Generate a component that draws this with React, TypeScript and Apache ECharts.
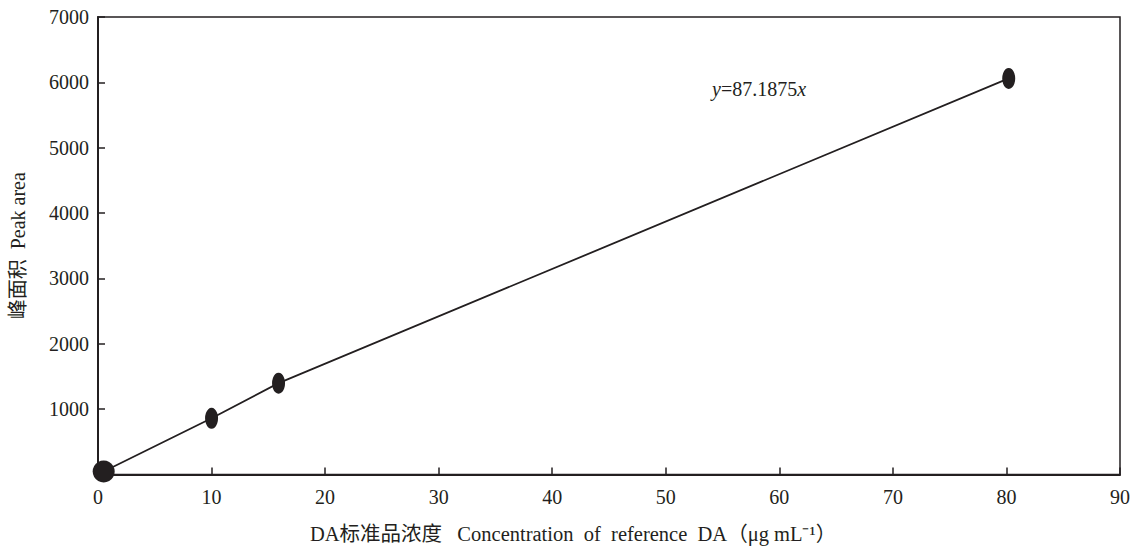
import React, { useEffect, useRef } from "react";
import * as echarts from "echarts";

const xValues = [0.5, 10, 15.9, 80.2];
const yValues = [45, 860, 1398, 6060];
const xTicks = [0, 10, 20, 30, 40, 50, 60, 70, 80, 90];
const yTicks = [0, 1000, 2000, 3000, 4000, 5000, 6000, 7000];

const FONT = "'Liberation Serif', 'Times New Roman', 'Noto Sans CJK SC', serif";
const INK = "#231f20";

export default function App() {
  const ref = useRef<HTMLDivElement>(null);
  useEffect(() => {
    if (!ref.current) return;
    const chart = echarts.init(ref.current, undefined, { renderer: "svg" });
    const pts = xValues.map((x, i) => [x, yValues[i]]);
    chart.setOption({
      animation: false,
      backgroundColor: "#ffffff",
      grid: {
        left: 97,
        right: 14,
        top: 17,
        bottom: 68,
        show: true,
        borderColor: INK,
        borderWidth: 1.5,
        backgroundColor: "transparent",
      },
      xAxis: {
        type: "value",
        min: xTicks[0],
        max: xTicks[xTicks.length - 1],
        interval: 10,
        name: "DA标准品浓度   Concentration  of  reference  DA（μg mL⁻¹）",
        nameLocation: "middle",
        nameGap: 49,
        nameTextStyle: {
          fontFamily: FONT,
          fontSize: 20.5,
          color: INK,
          padding: [0, 72, 0, 0],
        },
        axisLine: { show: true, lineStyle: { color: INK, width: 2 } },
        axisTick: { show: true, inside: true, length: 7, lineStyle: { color: INK, width: 1.5 } },
        axisLabel: { fontFamily: FONT, fontSize: 20, color: INK, margin: 12 },
        splitLine: { show: false },
      },
      yAxis: {
        type: "value",
        min: yTicks[0],
        max: yTicks[yTicks.length - 1],
        interval: 1000,
        name: "峰面积  Peak area",
        nameLocation: "middle",
        nameGap: 70,
        nameTextStyle: { fontFamily: FONT, fontSize: 20, color: INK },
        axisLine: { show: true, lineStyle: { color: INK, width: 2 } },
        axisTick: { show: true, inside: true, length: 7, lineStyle: { color: INK, width: 1.5 } },
        axisLabel: {
          fontFamily: FONT,
          fontSize: 20,
          color: INK,
          margin: 9,
          formatter: (v: number) => (v === 0 ? "" : String(v)),
        },
        splitLine: { show: false },
      },
      series: [
        {
          type: "line",
          data: pts,
          symbol: "none",
          lineStyle: { color: INK, width: 1.8 },
          z: 2,
        },
        {
          type: "scatter",
          data: pts.map((p, i) => ({
            value: p,
            symbolSize: i === 0 ? [22, 22] : [13, 21],
          })),
          symbol: "circle",
          itemStyle: { color: INK, opacity: 1 },
          z: 3,
        },
      ],
      graphic: [
        {
          type: "text",
          left: 712,
          top: 79,
          style: {
            text: "{i|y}{n|=87.1875}{i|x}",
            rich: {
              i: { fontFamily: FONT, fontSize: 20, fontStyle: "italic", fill: INK },
              n: { fontFamily: FONT, fontSize: 20, fill: INK },
            },
          },
        },
      ],
    });
    return () => chart.dispose();
  }, []);
  return (
    <div
      ref={ref}
      style={{ position: "fixed", left: 0, top: 0, width: 1134, height: 549 }}
    />
  );
}
